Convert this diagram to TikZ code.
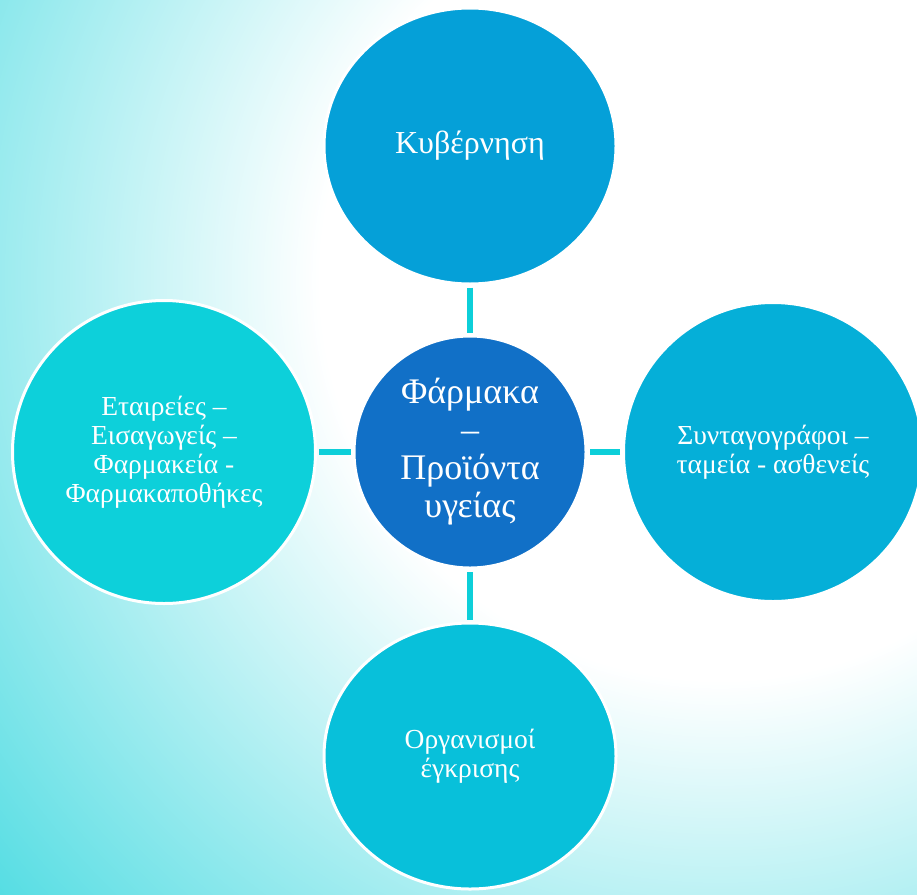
\documentclass[tikz,border=0pt]{standalone}
\usepackage{fontspec}
\setmainfont{Liberation Serif}
\usetikzlibrary{shapes.geometric}
\definecolor{bgc}{HTML}{55DDE3}
\definecolor{bgcb}{HTML}{4FDBE2}
\definecolor{ctop}{HTML}{05A0D8}
\definecolor{ccen}{HTML}{1170C7}
\definecolor{cleft}{HTML}{0DD0DA}
\definecolor{cright}{HTML}{05AFD8}
\definecolor{cbot}{HTML}{08C0DA}
\definecolor{clink}{HTML}{0DCFD9}
\pgfdeclareradialshading{bgshade}{\pgfpoint{0bp}{0bp}}{color(0bp)=(white); color(10bp)=(white); color(23.75bp)=(bgc); color(25bp)=(bgcb); color(50bp)=(bgcb)}
\tikzset{
  bubble/.style={ellipse, draw=white, line width=3pt, text=white, align=center, inner sep=0pt},
  smalltext/.style={font=\fontsize{27.5}{29}\selectfont},
  link/.style={draw=clink, line width=6pt, shorten <=2pt, shorten >=2pt}
}
\begin{document}
\begin{tikzpicture}[x=1pt,y=-1pt]
\useasboundingbox (0,0) rectangle (917,894);
\begin{scope}
\clip (0,0) rectangle (917,894);
\shade[shading=bgshade] (720,280) circle (1000pt);
\end{scope}
\node[bubble, fill=ctop, minimum width=292pt, minimum height=276pt, font=\fontsize{32}{34}\selectfont] (top) at (470,146) {Κυβέρνηση};
\node[bubble, fill=ccen, minimum width=232pt, minimum height=232pt, font=\fontsize{36}{38}\selectfont] (cen) at (470,452) {Φάρμακα\\–\\Προϊόντα\\υγείας};
\node[bubble, fill=cleft, minimum width=303pt, minimum height=303pt, smalltext] (left) at (164,452) {Εταιρείες –\\Εισαγωγείς –\\Φαρμακεία -\\Φαρμακαποθήκες};
\node[bubble, fill=cright, minimum width=299pt, minimum height=299pt, smalltext] (right) at (773,452) {Συνταγογράφοι –\\ταμεία - ασθενείς};
\node[bubble, fill=cbot, minimum width=292pt, minimum height=266pt, smalltext] (bot) at (470,756) {Οργανισμοί\\έγκρισης};
\draw[link] (top) -- (cen);
\draw[link] (left) -- (cen);
\draw[link] (right) -- (cen);
\draw[link] (bot) -- (cen);
\end{tikzpicture}
\end{document}
